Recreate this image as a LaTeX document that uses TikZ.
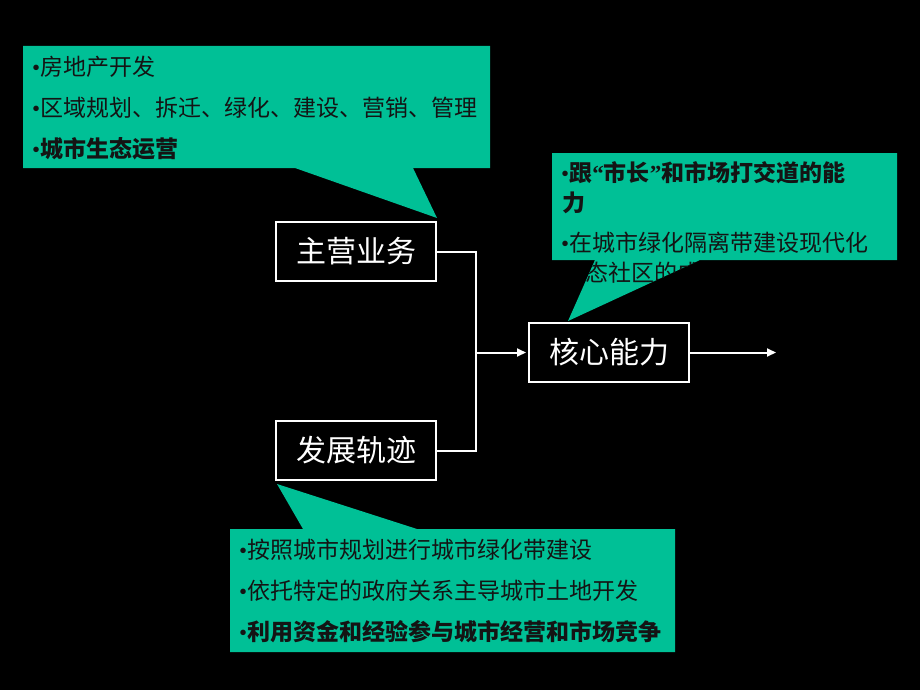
\documentclass[tikz,border=0pt]{standalone}
\usepackage{fontspec}
\usetikzlibrary{arrows.meta}
\newfontfamily\cjk{Noto Sans CJK SC}
\newfontfamily\bul{Liberation Serif}
\definecolor{callgreen}{RGB}{0,192,150}
\definecolor{calltext}{RGB}{20,20,20}
\newcommand{\bt}{{\bul •}}
\newcommand{\mylq}{{\bul\bfseries “}}
\newcommand{\myrq}{{\bul\bfseries ”}}
\tikzset{
  callout/.style={fill=callgreen},
  ctext/.style={anchor=west, inner sep=0pt, text=calltext, font=\cjk\fontsize{23}{27}\selectfont},
  mainbox/.style={draw=white, line width=2pt, minimum width=160pt, minimum height=59pt, text=white, font=\cjk\fontsize{30}{36}\selectfont, inner sep=0pt},
  conn/.style={draw=white, line width=2pt},
  tip/.style={-{Triangle[length=9pt,width=8pt]}},
}
\begin{document}
\begin{tikzpicture}[x=1pt,y=-1pt]
\fill[black] (0,0) rectangle (920,690);
\useasboundingbox (0,0) rectangle (920,690);
% callout 1
\fill[callout] (23,46) -- (490,46) -- (490,168) -- (413,168) -- (437,218) -- (295,168) -- (23,168) -- cycle;
\node[ctext] (c1a) at (32,67) {\bt 房地产开发};
\node[ctext] (c1b) at (32,108) {\bt 区域规划、拆迁、绿化、建设、营销、管理};
\node[ctext] (c1c) at (32,149) {\bt\bfseries 城市生态运营};
% callout 2
\fill[callout] (552,153) -- (897,153) -- (897,260) -- (700,260) -- (568,321) -- (595,260) -- (552,260) -- cycle;
\begin{scope}
\clip (552,153) -- (897,153) -- (897,260) -- (700,260) -- (568,321) -- (595,260) -- (552,260) -- cycle;
\node[ctext] (c2a) at (561,173) {\bt\bfseries 跟\mylq 市长\myrq 和市场打交道的能};
\node[ctext] (c2b) at (562,203) {\bfseries 力};
\node[ctext] (c2c) at (561,243) {\bt 在城市绿化隔离带建设现代化};
\node[ctext] (c2d) at (562,273) {生态社区的成功经验};
\end{scope}
% callout 3
\fill[callout] (230,529) -- (303,529) -- (277,484) -- (417,529) -- (675,529) -- (675,652) -- (230,652) -- cycle;
\node[ctext] (c3a) at (239,550) {\bt 按照城市规划进行城市绿化带建设};
\node[ctext] (c3b) at (239,591) {\bt 依托特定的政府关系主导城市土地开发};
\node[ctext] (c3c) at (239,632) {\bt\bfseries 利用资金和经验参与城市经营和市场竞争};
% boxes
\node[mainbox] (zy) at (356,251.5) {主营业务};
\node[mainbox] (fz) at (356,450.5) {发展轨迹};
\node[mainbox] (hx) at (609,352.5) {核心能力};
\coordinate (j) at (476,352.5);
\coordinate (out) at (776,352.5);
% connectors
\draw[conn] (zy.east) -| (j) |- (fz.east);
\draw[conn,tip,shorten >=2pt] (j) -- (hx.west);
\draw[conn,tip] (hx.east) -- (out);
\end{tikzpicture}
\end{document}
